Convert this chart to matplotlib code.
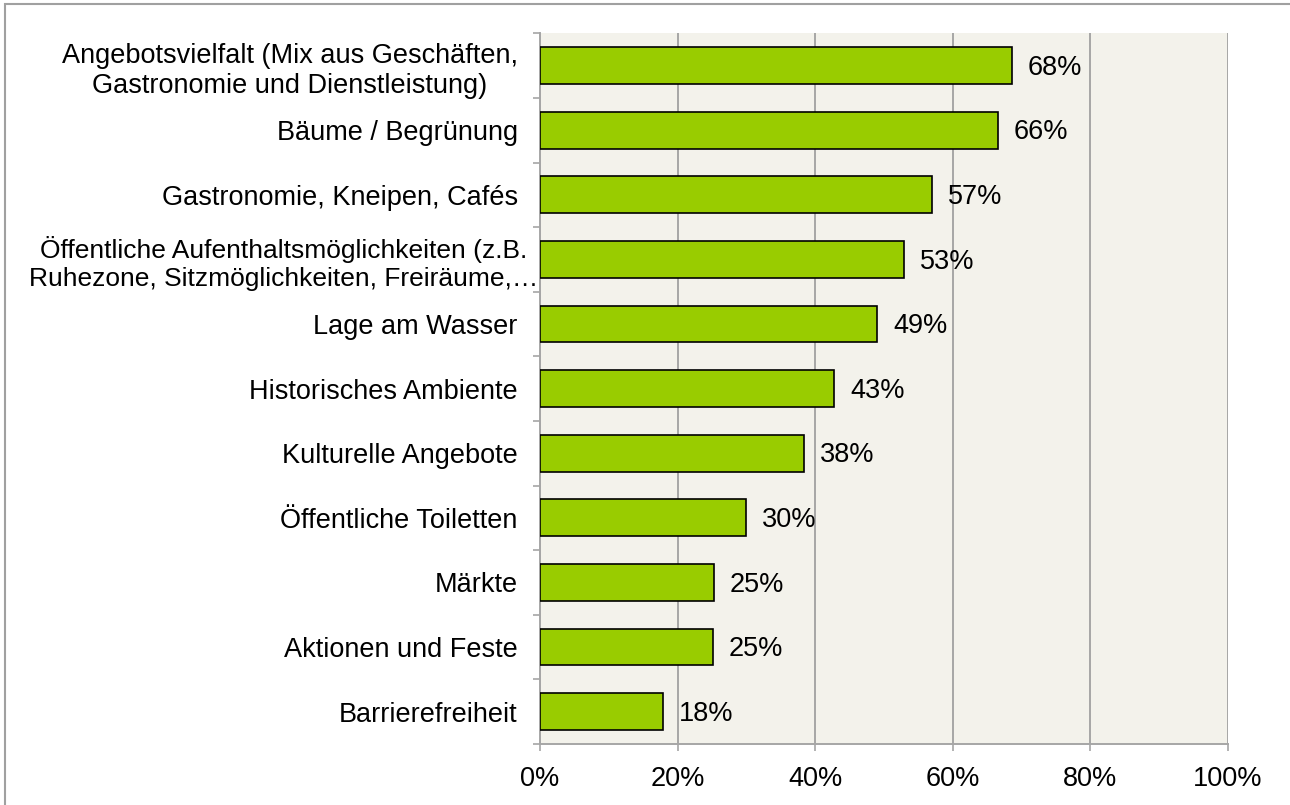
import matplotlib
matplotlib.use("Agg")
import matplotlib.pyplot as plt
from matplotlib.patches import Rectangle
from matplotlib.transforms import ScaledTranslation
import numpy as np

categories = [
    "Angebotsvielfalt (Mix aus Geschäften,\nGastronomie und Dienstleistung)",
    "Bäume / Begrünung",
    "Gastronomie, Kneipen, Cafés",
    "Öffentliche Aufenthaltsmöglichkeiten (z.B.\nRuhezone, Sitzmöglichkeiten, Freiräume,…",
    "Lage am Wasser",
    "Historisches Ambiente",
    "Kulturelle Angebote",
    "Öffentliche Toiletten",
    "Märkte",
    "Aktionen und Feste",
    "Barrierefreiheit",
]
values = [68.6, 66.5, 57.0, 52.9, 49.0, 42.8, 38.4, 30.0, 25.3, 25.1, 17.9]
value_labels = ["68%", "66%", "57%", "53%", "49%", "43%", "38%", "30%", "25%", "25%", "18%"]
xticks = [0, 20, 40, 60, 80, 100]
xtick_labels = ["0%", "20%", "40%", "60%", "80%", "100%"]

plt.rcParams['font.family'] = ['Liberation Sans', 'DejaVu Sans']
fs = 19.5
grid_col = '#A6A6A6'

fig = plt.figure(figsize=(12.9, 8.05), dpi=100)
ax = fig.add_axes([540 / 1290, 1 - 744 / 805, (1228 - 540) / 1290, (744 - 33.3) / 805])
ax.set_facecolor('#F3F2EB')

# outer frame (only top and left visible in the crop)
fig.patches.append(Rectangle((5 / 1290, -0.5), 2, 1.5 - 4 / 805, transform=fig.transFigure,
                             fill=False, edgecolor='#A0A0A0', linewidth=1.5))

y = np.arange(len(categories))
ax.barh(y, values, height=0.57, color='#99CC00', edgecolor='black', linewidth=1.2, zorder=3)

for yi, v, lab in zip(y, values, value_labels):
    ax.annotate(lab, (v, yi), xytext=(11.5, -1.5), textcoords='offset points',
                ha='left', va='center', fontsize=fs, zorder=4)

ax.set_ylim(len(categories) - 0.5, -0.5)
ax.set_xlim(0, 100)

ax.set_yticks(y)
ax.set_yticklabels(categories, fontsize=fs, multialignment='center')
ax.tick_params(axis='y', which='major', length=0, pad=16)
ax.set_yticks(np.arange(-0.5, len(categories), 1), minor=True)
ax.tick_params(axis='y', which='minor', length=5, width=1.2, color=grid_col, direction='out')

# long label runs into the tick area in the original
long_lab = ax.get_yticklabels()[3]
long_lab.set_fontsize(19)
long_lab.set_transform(long_lab.get_transform() + ScaledTranslation(0.2, 0, fig.dpi_scale_trans))

ax.set_xticks(xticks)
ax.set_xticklabels(xtick_labels, fontsize=fs)
ax.tick_params(axis='x', length=5, width=1.2, color=grid_col, pad=11)

ax.grid(axis='x', color=grid_col, linewidth=1.4, zorder=0)
ax.set_axisbelow(True)

for s in ['top', 'right']:
    ax.spines[s].set_visible(False)
for s in ['left', 'bottom']:
    ax.spines[s].set_color(grid_col)
    ax.spines[s].set_linewidth(1.4)

fig.savefig('out.png', dpi=100)
